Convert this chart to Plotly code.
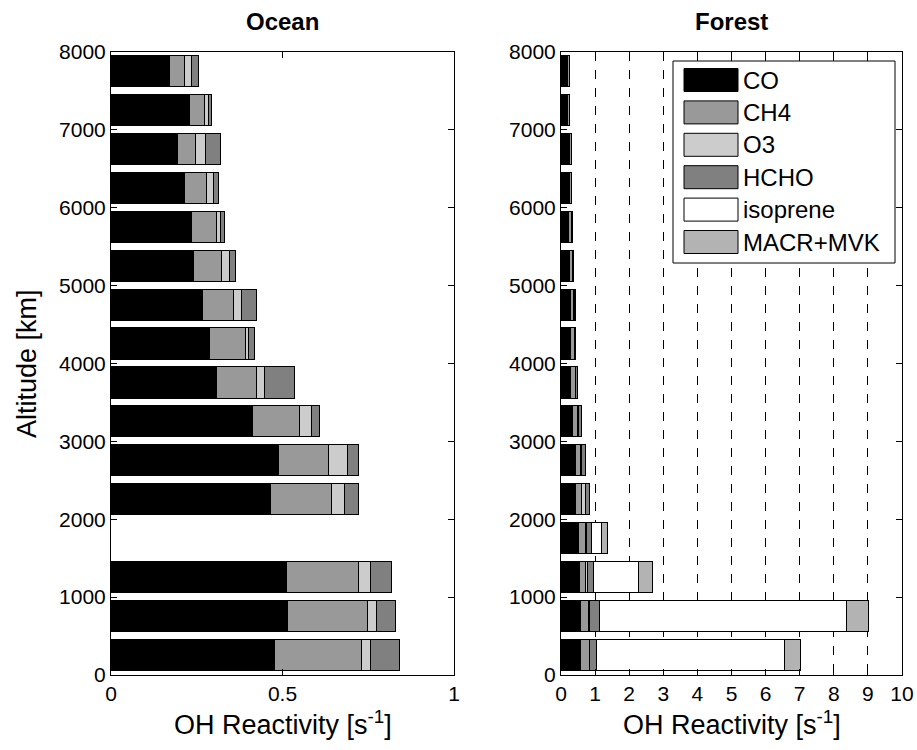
import plotly.graph_objects as go

# Altitude bin centres [m]
altitudes = [250, 750, 1250, 1750, 2250, 2750, 3250, 3750,
             4250, 4750, 5250, 5750, 6250, 6750, 7250, 7750]

species = ["CO", "CH4", "O3", "HCHO", "isoprene", "MACR+MVK"]
colors = ["#000000", "#999999", "#cccccc", "#808080", "#ffffff", "#b3b3b3"]

# OH reactivity contributions over the ocean [1/s] (no data in the 1500-2000 m bin)
ocean_co = [0.477, 0.517, 0.512, None, 0.465, 0.489, 0.415, 0.310,
            0.290, 0.267, 0.243, 0.235, 0.216, 0.196, 0.231, 0.172]
ocean_ch4 = [0.256, 0.233, 0.210, None, 0.179, 0.148, 0.136, 0.115,
             0.104, 0.092, 0.080, 0.073, 0.065, 0.053, 0.044, 0.043]
ocean_o3 = [0.025, 0.026, 0.036, None, 0.039, 0.054, 0.034, 0.024,
            0.008, 0.024, 0.023, 0.013, 0.018, 0.027, 0.010, 0.022]
ocean_hcho = [0.085, 0.055, 0.062, None, 0.039, 0.032, 0.025, 0.086,
              0.017, 0.043, 0.017, 0.011, 0.015, 0.045, 0.008, 0.021]
ocean_isop = [None] * 16
ocean_macr = [None] * 16

# OH reactivity contributions over the forest [1/s]
forest_co = [0.58, 0.59, 0.55, 0.52, 0.45, 0.45, 0.35, 0.29,
             0.28, 0.28, 0.25, 0.22, 0.26, 0.26, 0.21, 0.20]
forest_ch4 = [0.26, 0.22, 0.19, 0.21, 0.17, 0.13, 0.15, 0.14,
              0.12, 0.11, 0.09, 0.10, 0.05, 0.05, 0.04, 0.05]
forest_o3 = [0.02, 0.05, 0.06, 0.02, 0.10, 0.04, 0.04, 0.02,
             0.02, 0.02, 0.02, 0.02, 0.01, 0.01, 0.01, 0.01]
forest_hcho = [0.20, 0.28, 0.18, 0.15, 0.12, 0.11, 0.07, 0.04,
               0.03, 0.02, 0.02, 0.02, 0.01, 0.01, 0.01, 0.01]
forest_isop = [5.52, 7.24, 1.32, 0.29, None, None, None, None,
               None, None, None, None, None, None, None, None]
forest_macr = [0.47, 0.66, 0.39, 0.18, None, None, None, None,
               None, None, None, None, None, None, None, None]

ocean = [ocean_co, ocean_ch4, ocean_o3, ocean_hcho, ocean_isop, ocean_macr]
forest = [forest_co, forest_ch4, forest_o3, forest_hcho, forest_isop, forest_macr]

ocean_xticks = [0, 0.5, 1]
ocean_xlabels = ["0", "0.5", "1"]
forest_xticks = list(range(0, 11))
alt_ticks = list(range(0, 8001, 1000))

FONT = "Liberation Sans, Arial, sans-serif"
TICK_SIZE = 21
LABEL_SIZE = 27
TITLE_SIZE = 24
LEGEND_SIZE = 24

W, H = 917.0, 750.0

fig = go.Figure()

for name, col, ov, fv in zip(species, colors, ocean, forest):
    fig.add_trace(go.Bar(
        y=altitudes, x=ov, orientation="h", width=400, name=name,
        marker=dict(color=col, line=dict(color="#000000", width=1)),
        xaxis="x", yaxis="y", showlegend=False))
    fig.add_trace(go.Bar(
        y=altitudes, x=fv, orientation="h", width=400, name=name,
        marker=dict(color=col, line=dict(color="#000000", width=1)),
        xaxis="x2", yaxis="y2", showlegend=False))

axis_common = dict(
    showline=True, linecolor="#000000", linewidth=1, mirror="allticks",
    ticks="inside", ticklen=6, tickcolor="#000000", tickwidth=1,
    zeroline=False, showgrid=False, automargin=False,
    tickfont=dict(family=FONT, size=TICK_SIZE, color="#000000"),
)

xd1 = [111 / W, 454 / W]
xd2 = [561 / W, 902 / W]
yd = [1 - 675 / H, 1 - 52 / H]

fig.update_layout(
    width=917, height=750,
    margin=dict(l=0, r=0, t=0, b=0, autoexpand=False),
    paper_bgcolor="#ffffff", plot_bgcolor="#ffffff",
    barmode="stack", bargap=0,
    showlegend=False,
    font=dict(family=FONT, color="#000000"),
    xaxis=dict(axis_common, domain=xd1, anchor="y", range=[0, 1],
               tickvals=ocean_xticks, ticktext=ocean_xlabels),
    yaxis=dict(axis_common, domain=yd, anchor="x", range=[0, 8000],
               tickvals=alt_ticks),
    xaxis2=dict(axis_common, domain=xd2, anchor="y2", range=[0, 10],
                tickvals=forest_xticks,
                showgrid=True, gridcolor="#000000", gridwidth=1, griddash="dash"),
    yaxis2=dict(axis_common, domain=yd, anchor="x2", range=[0, 8000],
                tickvals=alt_ticks),
)

# Panel titles and axis labels
for text, dom in (("Ocean", xd1), ("Forest", xd2)):
    cx = (dom[0] + dom[1]) / 2
    fig.add_annotation(text=f"<b>{text}</b>", xref="paper", yref="paper",
                       x=cx, y=1 - 22 / H, showarrow=False,
                       xanchor="center", yanchor="middle",
                       font=dict(family=FONT, size=TITLE_SIZE, color="#000000"))
    fig.add_annotation(text="OH Reactivity [s<sup>-1</sup>]", xref="paper", yref="paper",
                       x=cx, y=1 - 723 / H, showarrow=False,
                       xanchor="center", yanchor="middle",
                       font=dict(family=FONT, size=LABEL_SIZE, color="#000000"))

fig.add_annotation(text="Altitude [km]", xref="paper", yref="paper",
                   x=27 / W, y=1 - 364 / H, showarrow=False, textangle=-90,
                   xanchor="center", yanchor="middle",
                   font=dict(family=FONT, size=LABEL_SIZE, color="#000000"))

# Legend box inside the forest panel
box_l, box_r, box_t, box_b = 673, 895, 61, 263
fig.add_shape(type="rect", xref="paper", yref="paper",
              x0=box_l / W, x1=box_r / W, y0=1 - box_b / H, y1=1 - box_t / H,
              line=dict(color="#000000", width=1), fillcolor="#ffffff", layer="above")
row_h = 32.4
for i, (name, col) in enumerate(zip(species, colors)):
    cy = 80 + i * row_h
    fig.add_shape(type="rect", xref="paper", yref="paper",
                  x0=684 / W, x1=738 / W, y0=1 - (cy + 11.5) / H, y1=1 - (cy - 11.5) / H,
                  line=dict(color="#000000", width=1), fillcolor=col, layer="above")
    fig.add_annotation(text=name, xref="paper", yref="paper",
                       x=741 / W, y=1 - cy / H, showarrow=False,
                       xanchor="left", yanchor="middle",
                       font=dict(family=FONT, size=LEGEND_SIZE, color="#000000"))

fig.write_html("out.html")
